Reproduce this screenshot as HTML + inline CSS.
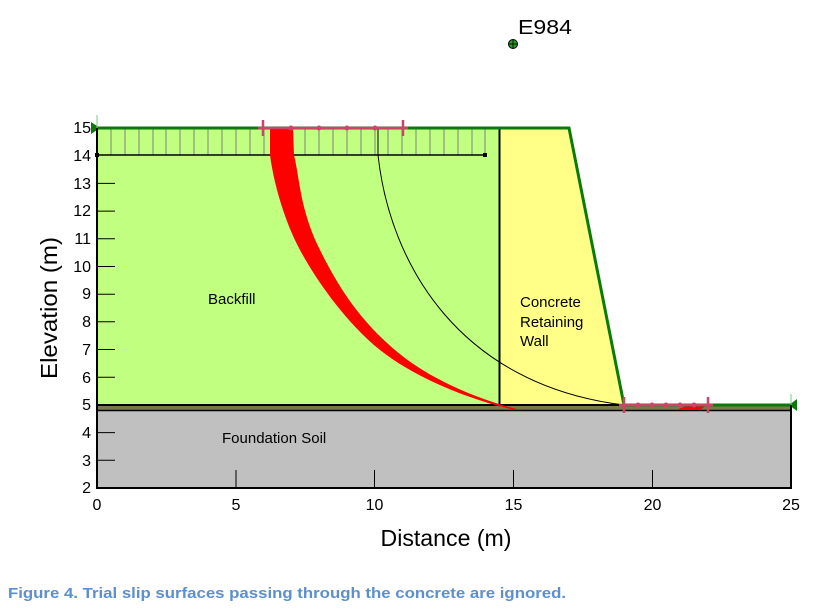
<!DOCTYPE html>
<html><head><meta charset="utf-8"><style>
html,body{margin:0;padding:0;background:#fff;width:839px;height:615px;overflow:hidden}
svg{display:block}
</style></head><body>
<svg width="839" height="615" viewBox="0 0 839 615" xmlns="http://www.w3.org/2000/svg" font-family="'Liberation Sans',Arial,sans-serif">
<rect x="97" y="410" width="694" height="78" fill="#c0c0c0"/>
<rect x="97" y="405" width="694" height="5.5" fill="#7a7a48"/>
<line x1="97" y1="410.5" x2="791" y2="410.5" stroke="#000" stroke-width="1.5"/>
<rect x="97" y="128" width="402.5" height="277" fill="#c0ff80"/>
<polygon points="499.5,128 569,128 624,405 499.5,405" fill="#ffff88"/>
<line x1="499.5" y1="128" x2="499.5" y2="405" stroke="#000" stroke-width="2"/>
<line x1="97" y1="405" x2="624" y2="405" stroke="#000" stroke-width="2"/>
<g stroke="#808080" stroke-width="1">
<line x1="111" y1="128" x2="111" y2="155"/><line x1="125" y1="128" x2="125" y2="155"/><line x1="139" y1="128" x2="139" y2="155"/><line x1="153" y1="128" x2="153" y2="155"/><line x1="166" y1="128" x2="166" y2="155"/><line x1="180" y1="128" x2="180" y2="155"/><line x1="194" y1="128" x2="194" y2="155"/><line x1="208" y1="128" x2="208" y2="155"/><line x1="222" y1="128" x2="222" y2="155"/><line x1="236" y1="128" x2="236" y2="155"/><line x1="250" y1="128" x2="250" y2="155"/><line x1="264" y1="128" x2="264" y2="155"/><line x1="277" y1="128" x2="277" y2="155"/><line x1="291" y1="128" x2="291" y2="155"/><line x1="305" y1="128" x2="305" y2="155"/><line x1="319" y1="128" x2="319" y2="155"/><line x1="333" y1="128" x2="333" y2="155"/><line x1="347" y1="128" x2="347" y2="155"/><line x1="361" y1="128" x2="361" y2="155"/><line x1="375" y1="128" x2="375" y2="155"/><line x1="388" y1="128" x2="388" y2="155"/><line x1="402" y1="128" x2="402" y2="155"/><line x1="416" y1="128" x2="416" y2="155"/><line x1="430" y1="128" x2="430" y2="155"/><line x1="444" y1="128" x2="444" y2="155"/><line x1="458" y1="128" x2="458" y2="155"/><line x1="472" y1="128" x2="472" y2="155"/><line x1="485" y1="128" x2="485" y2="155"/>
</g>
<line x1="97" y1="155" x2="485" y2="155" stroke="#000" stroke-width="1.5"/>
<line x1="97" y1="128" x2="485" y2="128" stroke="#000" stroke-width="1.5"/>
<rect x="483" y="153" width="4" height="4" fill="#000"/>
<rect x="95" y="153" width="4" height="4" fill="#000"/>
<path d="M270,128 L270,155 C274,185 285,222 300,250 S345,322 380,350 S470,400 515,410 L520,410 C480,400 430,380 395,350 S340,290 320,250 S300,180 294,155 L293,128 Z" fill="#ff0000"/>
<path d="M676,410 C690,404 700,403 708,404 L700,410 Z" fill="#ff0000"/>
<path d="M378,128 L378,155 C390,265 460,385 624,405" fill="none" stroke="#000" stroke-width="1"/>
<polyline points="97,128 569,128 624,405" fill="none" stroke="#0a7a0a" stroke-width="3"/>
<line x1="624" y1="405" x2="791" y2="405" stroke="#0a7a0a" stroke-width="3"/>
<polygon points="91,122 91,134 100,128" fill="#0a7a0a"/>
<polygon points="797,399 797,411 789,405" fill="#0a7a0a"/>
<line x1="97" y1="115" x2="97" y2="128" stroke="#7c7" stroke-width="1"/>
<line x1="791" y1="394" x2="791" y2="405" stroke="#7c7" stroke-width="1"/>
<g stroke="#cc4466" stroke-width="2.5" fill="#cc4466">
<line x1="258" y1="128" x2="408" y2="128"/>
<line x1="263" y1="120" x2="263" y2="136"/><line x1="403" y1="120" x2="403" y2="136"/>
<line x1="619" y1="405" x2="713" y2="405"/>
<line x1="624" y1="397" x2="624" y2="413"/><line x1="708" y1="397" x2="708" y2="413"/>
</g>
<g fill="#cc4466"><circle cx="291" cy="128" r="2.5"/><circle cx="319" cy="128" r="2.5"/><circle cx="347" cy="128" r="2.5"/><circle cx="375" cy="128" r="2.5"/>
<circle cx="638" cy="405" r="2.5"/><circle cx="652" cy="405" r="2.5"/><circle cx="666" cy="405" r="2.5"/><circle cx="680" cy="405" r="2.5"/><circle cx="694" cy="405" r="2.5"/></g>
<polyline points="97,128 97,488 791,488 791,405" fill="none" stroke="#000" stroke-width="2"/>
<g stroke="#000" stroke-width="1">
<line x1="97" y1="183.4" x2="115" y2="183.4"/><line x1="97" y1="211.1" x2="115" y2="211.1"/><line x1="97" y1="238.8" x2="115" y2="238.8"/><line x1="97" y1="266.5" x2="115" y2="266.5"/><line x1="97" y1="294.2" x2="115" y2="294.2"/><line x1="97" y1="321.8" x2="115" y2="321.8"/><line x1="97" y1="349.5" x2="115" y2="349.5"/><line x1="97" y1="377.2" x2="115" y2="377.2"/><line x1="97" y1="432.6" x2="115" y2="432.6"/><line x1="97" y1="460.3" x2="115" y2="460.3"/>
<line x1="236" y1="470" x2="236" y2="488"/><line x1="374.5" y1="470" x2="374.5" y2="488"/><line x1="513.5" y1="470" x2="513.5" y2="488"/><line x1="652.5" y1="470" x2="652.5" y2="488"/>
</g>
<g font-size="16" fill="#000" text-anchor="end">
<text x="91" y="133">15</text><text x="91" y="161">14</text><text x="91" y="189">13</text><text x="91" y="216">12</text><text x="91" y="244">11</text><text x="91" y="272">10</text><text x="91" y="299">9</text><text x="91" y="327">8</text><text x="91" y="355">7</text><text x="91" y="383">6</text><text x="91" y="410">5</text><text x="91" y="438">4</text><text x="91" y="466">3</text><text x="91" y="493">2</text>
</g>
<g font-size="16" fill="#000" text-anchor="middle">
<text x="97" y="510">0</text><text x="236" y="510">5</text><text x="374.5" y="510">10</text><text x="513.5" y="510">15</text><text x="652.5" y="510">20</text><text x="791" y="510">25</text>
</g>
<text x="446" y="546" font-size="23" text-anchor="middle" textLength="131" lengthAdjust="spacingAndGlyphs">Distance (m)</text>
<text transform="translate(57,308) rotate(-90)" font-size="23" text-anchor="middle" textLength="142" lengthAdjust="spacingAndGlyphs">Elevation (m)</text>
<g font-size="15" fill="#000">
<text x="208" y="304">Backfill</text>
<text x="520" y="307">Concrete</text><text x="520" y="327">Retaining</text><text x="520" y="346">Wall</text>
<text x="222" y="443">Foundation Soil</text>
</g>
<circle cx="513" cy="44" r="4.5" fill="#2a9a2a" stroke="#000" stroke-width="1"/>
<line x1="509" y1="44" x2="517" y2="44" stroke="#000" stroke-width="0.8"/><line x1="513" y1="40" x2="513" y2="48" stroke="#000" stroke-width="0.8"/>
<text x="518" y="34" font-size="20" textLength="54" lengthAdjust="spacingAndGlyphs">E984</text>
<text x="8" y="598" font-size="14.5" font-weight="bold" fill="#5b8fcf" textLength="558" lengthAdjust="spacingAndGlyphs">Figure 4.  Trial slip surfaces passing through the concrete are ignored.</text>
</svg>
</body></html>
